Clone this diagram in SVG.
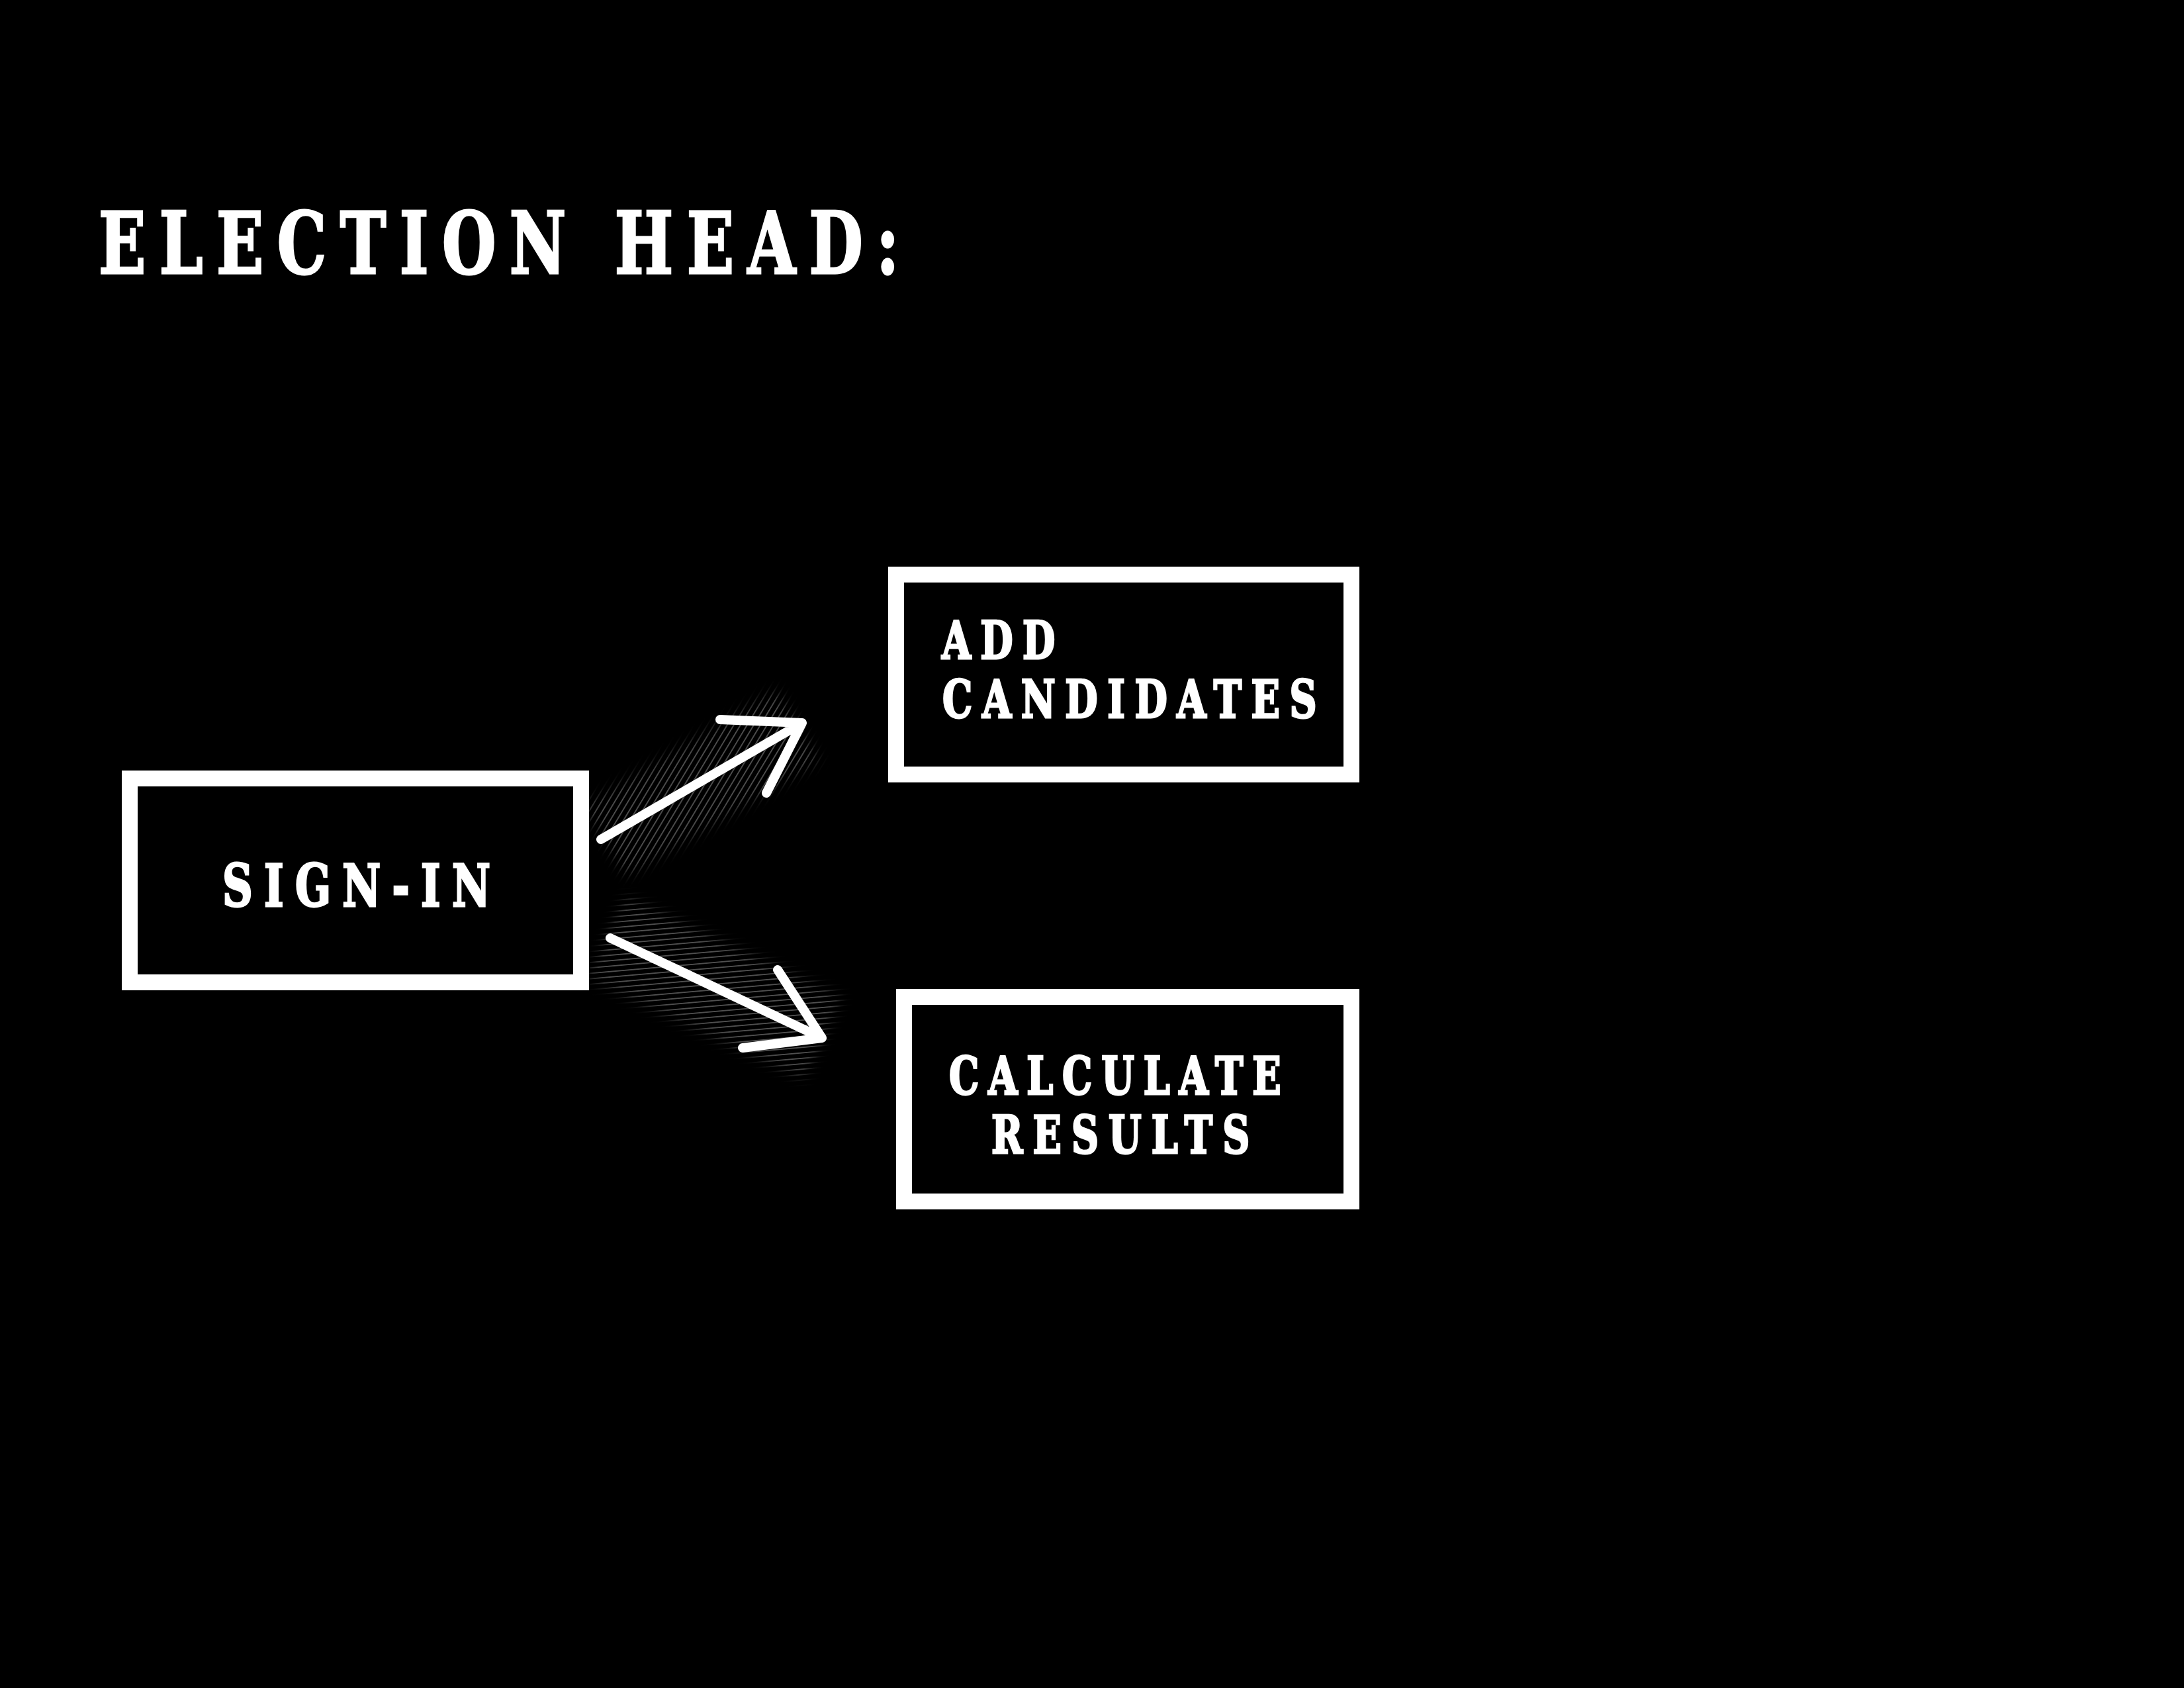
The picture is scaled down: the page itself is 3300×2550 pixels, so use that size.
<svg xmlns="http://www.w3.org/2000/svg" width="3300" height="2550" viewBox="0 0 3300 2550">
<style>
.bg{fill:#000}
.box{fill:#000;stroke:#fff;stroke-width:24}
.t{font-family:"DejaVu Serif Condensed","DejaVu Serif","Liberation Serif",serif;font-weight:bold;fill:#fff;stroke:#fff;stroke-width:3;stroke-linejoin:miter}
.arrow{fill:none;stroke:#fff;stroke-width:14;stroke-linecap:round;stroke-linejoin:round}
</style>
<defs>
<pattern id="hatch1" width="40" height="8.6" patternUnits="userSpaceOnUse" patternTransform="rotate(-59)">
<rect x="0" y="0" width="40" height="1.8" fill="#505050"/>
</pattern>
<pattern id="hatch2" width="40" height="8.2" patternUnits="userSpaceOnUse" patternTransform="rotate(-5)">
<rect x="0" y="0" width="40" height="1.8" fill="#505050"/>
</pattern>
<filter id="feather" x="-20%" y="-20%" width="140%" height="140%">
<feGaussianBlur stdDeviation="9"/>
</filter>
<mask id="m1" maskUnits="userSpaceOnUse" x="0" y="0" width="3300" height="2550">
<rect x="-170" y="-62" width="340" height="124" fill="#fff" filter="url(#feather)" transform="translate(1060 1183) rotate(-31)"/>
</mask>
<mask id="m2" maskUnits="userSpaceOnUse" x="0" y="0" width="3300" height="2550">
<rect x="-180" y="-68" width="360" height="136" fill="#fff" filter="url(#feather)" transform="translate(1080 1492) rotate(25)"/>
</mask>
</defs>
<rect class="bg" x="0" y="0" width="3300" height="2550"/>
<g id="title" transform="translate(149 413) scale(0.8 1)">
<text class="t" x="0" y="0" font-size="130" textLength="1512" lengthAdjust="spacing">ELECTION HEAD:</text>
</g>
<g id="connectors">
<rect x="0" y="0" width="3300" height="2550" fill="url(#hatch1)" mask="url(#m1)"/>
<rect x="0" y="0" width="3300" height="2550" fill="url(#hatch2)" mask="url(#m2)"/>
<path class="arrow" d="M908 1268 L1212 1092 M1088 1087 L1212 1092 L1158 1198"/>
<path class="arrow" d="M922 1417 L1242 1568 M1175 1465 L1242 1568 L1122 1583"/>
</g>
<g id="sign-in">
<rect class="box" x="196" y="1176" width="682" height="308"/>
<text class="t" transform="translate(336 1369) scale(0.8 1)" x="0" y="0" font-size="88" textLength="506" lengthAdjust="spacing">SIGN-IN</text>
</g>
<g id="add-candidates">
<rect class="box" x="1354" y="868" width="688" height="302"/>
<text class="t" transform="translate(1423 995) scale(0.8 1)" x="0" y="0" font-size="79" textLength="214" lengthAdjust="spacing">ADD</text>
<text class="t" transform="translate(1424 1084) scale(0.8 1)" x="0" y="0" font-size="79" textLength="707" lengthAdjust="spacing">CANDIDATES</text>
</g>
<g id="calculate-results">
<rect class="box" x="1366" y="1506" width="676" height="309"/>
<text class="t" transform="translate(1434 1653) scale(0.8 1)" x="0" y="0" font-size="79" textLength="627" lengthAdjust="spacing">CALCULATE</text>
<text class="t" transform="translate(1498 1742) scale(0.8 1)" x="0" y="0" font-size="79" textLength="488" lengthAdjust="spacing">RESULTS</text>
</g>
</svg>
